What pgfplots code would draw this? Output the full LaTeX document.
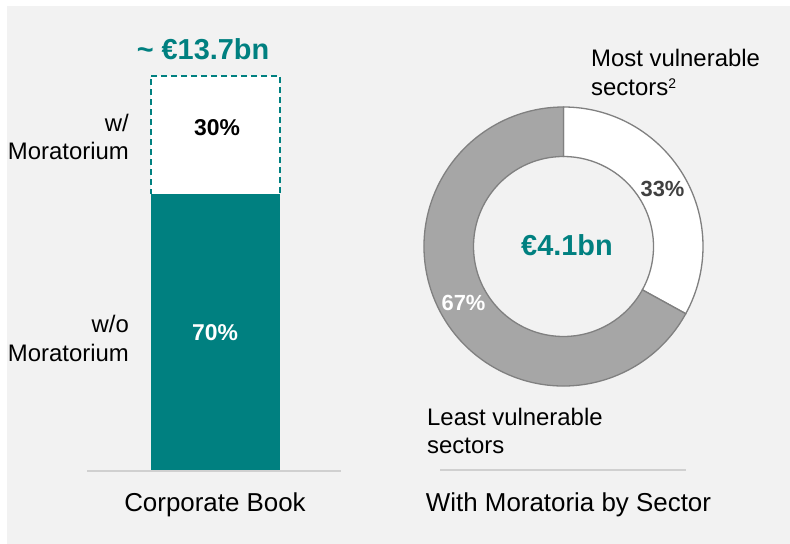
\documentclass[border=0pt]{standalone}
\usepackage{fontspec}
\setmainfont{Liberation Sans}
\usepackage{pgfplots}
\usepackage{pgfplotstable}
\pgfplotsset{compat=1.18}

\definecolor{tealc}{HTML}{008080}
\definecolor{bgc}{HTML}{F2F2F2}
\definecolor{donutgray}{HTML}{A6A6A6}
\definecolor{outl}{HTML}{808080}
\definecolor{baselinec}{HTML}{D0D0D0}
\definecolor{darktxt}{HTML}{404040}

% donut shares (percent)
\pgfplotstableread{
sector share
most 33
least 67
}\donutdata

\newcommand{\lbl}{\fontsize{24}{28}\selectfont}
\newcommand{\ttl}{\fontsize{26}{30}\selectfont}

\begin{document}
\begin{tikzpicture}
% canvas and panel
\fill[white] (0bp,0bp) rectangle (790bp,544bp);
\fill[bgc] (7bp,0bp) rectangle (790bp,538bp);

% ---- left: corporate book stacked bar
\begin{axis}[
    at={(87bp,73bp)}, anchor=south west,
    scale only axis, width=254bp, height=395bp,
    hide axis, clip=false,
    xmin=-1, xmax=1, ymin=0, ymax=100,
    ybar stacked, bar width=129bp,
  ]
  \draw[baselinec, line width=2bp] (axis cs:-1,0) -- (axis cs:1,0);
  \addplot[fill=tealc, draw=none] coordinates {(0.01,70)};
  \addplot[fill=white, draw=tealc, line width=1.5bp, dash pattern=on 6bp off 4bp] coordinates {(0.01,30)};
\end{axis}

% ---- right: donut by sector
\pgfplotstablegetelem{0}{share}\of\donutdata
\pgfmathsetmacro{\splitang}{90-3.6*\pgfplotsretval}
\begin{axis}[
    at={(423.5bp,157.5bp)}, anchor=south west,
    scale only axis, width=280bp, height=280bp,
    hide axis, clip=false,
    xmin=-1, xmax=1, ymin=-1, ymax=1,
  ]
  \coordinate (c) at (axis cs:0,0);
  \filldraw[fill=white, draw=outl, line width=1.3bp]
    ([shift={(90:139.5bp)}]c) arc[start angle=90, end angle=\splitang, radius=139.5bp]
    -- ([shift={(\splitang:90bp)}]c) arc[start angle=\splitang, end angle=90, radius=90bp] -- cycle;
  \filldraw[fill=donutgray, draw=outl, line width=1.3bp]
    ([shift={(\splitang:139.5bp)}]c) arc[start angle=\splitang, end angle=-270, radius=139.5bp]
    -- ([shift={(-270:90bp)}]c) arc[start angle=-270, end angle=\splitang, radius=90bp] -- cycle;
\end{axis}
\draw[baselinec, line width=2bp] (440bp,74bp) -- (686bp,74bp);

% ---- texts, left
\node[anchor=base, text=tealc, font=\fontsize{29}{34}\selectfont\bfseries, inner sep=0pt]
  at (203bp,484.5bp) {\textasciitilde{} €13.7bn};
\node[anchor=base east, font=\lbl, inner sep=0pt] at (129bp,412bp) {w/};
\node[anchor=base east, font=\lbl, inner sep=0pt] at (129bp,384bp) {Moratorium};
\node[anchor=base east, font=\lbl, inner sep=0pt] at (129bp,211bp) {w/o};
\node[anchor=base east, font=\lbl, inner sep=0pt] at (129bp,182bp) {Moratorium};
\node[anchor=base, font=\fontsize{23}{27}\selectfont\bfseries, inner sep=0pt] at (217bp,408bp) {30\%};
\node[anchor=base, text=white, font=\fontsize{23}{27}\selectfont\bfseries, inner sep=0pt] at (215bp,203bp) {70\%};
\node[anchor=base, font=\ttl, inner sep=0pt] at (215bp,33bp) {Corporate Book};

% ---- texts, right
\node[anchor=base west, font=\lbl, inner sep=0pt] at (591bp,477bp) {Most vulnerable};
\node[anchor=base west, font=\lbl, inner sep=0pt] at (591bp,448bp) {sectors\raisebox{7bp}{\fontsize{14}{14}\selectfont 2}};
\node[anchor=base west, font=\lbl, inner sep=0pt] at (427bp,118bp) {Least vulnerable};
\node[anchor=base west, font=\lbl, inner sep=0pt] at (427bp,90bp) {sectors};
\node[anchor=base, text=darktxt, font=\fontsize{22}{26}\selectfont\bfseries, inner sep=0pt] at (662.5bp,347bp) {33\%};
\node[anchor=base, text=white, font=\fontsize{22}{26}\selectfont\bfseries, inner sep=0pt] at (463.5bp,233bp) {67\%};
\node[anchor=base, text=tealc, font=\fontsize{29}{34}\selectfont\bfseries, inner sep=0pt] at (567bp,288bp) {€4.1bn};
\node[anchor=base, font=\ttl, inner sep=0pt] at (568.5bp,33bp) {With Moratoria by Sector};
\end{tikzpicture}
\end{document}
